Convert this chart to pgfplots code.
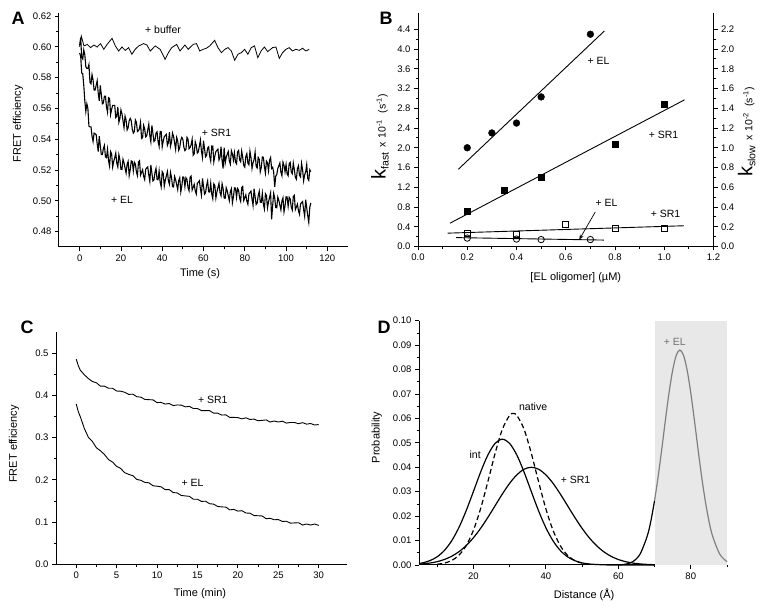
\documentclass[border=0pt]{standalone}
\usepackage{fontspec}
\setmainfont{Liberation Sans}
\usepackage{pgfplots}
\pgfplotsset{compat=1.18}
\usetikzlibrary{arrows.meta}

\pgfplotsset{
  panel/.style={
    scale only axis,
    anchor=south west,
    axis x line*=bottom,
    axis y line*=left,
    tick align=outside,
    major tick length=4pt,
    minor tick length=2.5pt,
    every tick/.style={black, line width=0.8pt},
    axis line style={line width=1pt},
    tick label style={font=\fontsize{9.5}{10}\selectfont},
    label style={font=\fontsize{11}{12}\selectfont},
    /pgf/number format/assume math mode=true,
    scaled ticks=false,
    clip=false,
  },
}
\tikzset{ann/.style={font=\fontsize{10.5}{12}\selectfont}}
\newcommand{\klabel}[3]{{\fontsize{20}{20}\selectfont k}\raisebox{-3pt}{\fontsize{10.5}{11}\selectfont #1}{\fontsize{10.5}{11}\selectfont\hspace{5pt}x\hspace{4pt}10\textsuperscript{#2}\hspace{6pt}(s\textsuperscript{#3})}}

\begin{document}
\begin{tikzpicture}[x=1pt,y=1pt]
\useasboundingbox (0,0) rectangle (768,612);

% ---------------- Panel A ----------------
\begin{axis}[panel,
  at={(59pt,365pt)}, width=289pt, height=234pt,
  xmin=-10, xmax=130, ymin=0.47, ymax=0.622,
  xtick={0,20,...,120}, minor x tick num=1,
  ytick={0.48,0.50,...,0.621}, minor y tick num=1,
  yticklabel style={/pgf/number format/.cd, fixed, fixed zerofill, precision=2},
  xlabel={Time (s)}, ylabel={FRET efficiency},
  xlabel style={at={(axis description cs:0.488,-0.115)}, anchor=center},
  ylabel style={at={(axis description cs:-0.142,0.526)}, anchor=center},
]
\addplot[black, line width=0.8pt] coordinates {
(0,0.600)(0.8,0.607)(2.1,0.6006)(3.7,0.6016)(5.3,0.5995)(6.9,0.6012)(8.5,0.5999)(10.1,0.6021)(11.7,0.5984)(13.3,0.6016)(15.7,0.6055)(17.3,0.6006)(18.9,0.5973)(20.5,0.5999)(22.1,0.5977)(23.7,0.5995)(25.3,0.5952)(26.9,0.5984)(28.6,0.6006)(31.0,0.6021)(32.6,0.6012)(34.2,0.5973)(36.6,0.6006)(39.0,0.5984)(41.4,0.5919)(43.0,0.5962)(44.6,0.5995)(47.0,0.6016)(48.6,0.5973)(51.0,0.6012)(52.6,0.5984)(55.0,0.6016)(56.6,0.6021)(58.2,0.5973)(59.8,0.5984)(61.4,0.5991)(63.0,0.6006)(65.4,0.6042)(67.0,0.5995)(68.7,0.5962)(70.3,0.5984)(71.9,0.5995)(73.5,0.5973)(75.1,0.5913)(76.7,0.5952)(78.3,0.5962)(79.9,0.5984)(81.5,0.5952)(83.1,0.5995)(84.7,0.6006)(86.3,0.5930)(87.9,0.5973)(89.5,0.5999)(91.1,0.5969)(93.5,0.5995)(95.1,0.5999)(96.7,0.5925)(98.3,0.5962)(99.9,0.5984)(101.5,0.5995)(103.1,0.5973)(104.8,0.5984)(106.4,0.5977)(108.0,0.5991)(109.6,0.5973)(111.2,0.5984)
};
\addplot[black, line width=1.1pt] coordinates {
(0,0.601)(0.5,0.606)(1,0.593)(1.5,0.592)(2,0.598)(2.5,0.595)(3,0.587)(3.5,0.586)(4,0.586)(4.5,0.5885)(5,0.577)(5.5,0.576)(6,0.582)(6.5,0.5785)(7,0.572)(7.5,0.572)(8,0.575)(8.5,0.578)(9,0.570)(9.5,0.565)(10,0.575)(10.5,0.569)(11,0.563)(11.5,0.5635)(12,0.568)(12.5,0.568)(13,0.561)(13.5,0.5575)(14,0.567)(14.5,0.5665)(15,0.556)(15.5,0.5595)(16,0.562)(16.5,0.562)(17,0.562)(17.5,0.554)(18,0.555)(18.5,0.561)(19,0.551)(19.5,0.5535)(20,0.559)(20.5,0.5565)(21,0.552)(21.5,0.5475)(22,0.555)(22.5,0.5525)(23,0.546)(23.5,0.5475)(24,0.552)(24.5,0.5535)(25,0.552)(25.5,0.5465)(26,0.544)(26.5,0.545)(27,0.5525)(27.5,0.551)(28,0.545)(28.5,0.5455)(29,0.547)(29.5,0.551)(30,0.5405)(30.5,0.541)(31,0.549)(31.5,0.5468)(32,0.5415)(32.5,0.5423)(33,0.546)(33.5,0.5498)(34,0.5425)(34.5,0.5383)(35,0.549)(35.5,0.5438)(36,0.5385)(36.5,0.5393)(37,0.544)(37.5,0.5448)(38,0.5385)(38.5,0.5353)(39,0.545)(39.5,0.545)(40,0.535)(40.5,0.5388)(41,0.5416)(41.5,0.5424)(42,0.5432)(42.5,0.536)(43,0.5378)(43.5,0.5446)(44,0.5354)(44.5,0.5382)(45,0.544)(45.5,0.5418)(46,0.5376)(46.5,0.5334)(47,0.5412)(47.5,0.539)(48,0.5328)(48.5,0.5346)(49,0.5394)(49.5,0.5412)(50,0.540)(50.5,0.5348)(51,0.5326)(51.5,0.5334)(52,0.5412)(52.5,0.540)(53,0.5338)(53.5,0.5346)(54,0.5364)(54.5,0.540)(55,0.5296)(55.5,0.5305)(56,0.5383)(56.5,0.5361)(57,0.531)(57.5,0.5318)(58,0.5356)(58.5,0.5395)(59,0.5323)(59.5,0.5281)(60,0.539)(60.5,0.5338)(61,0.5286)(61.5,0.5295)(62,0.5343)(62.5,0.5351)(63,0.529)(63.5,0.5258)(64,0.5356)(64.5,0.5355)(65,0.5253)(65.5,0.5291)(66,0.532)(66.5,0.5328)(67,0.5336)(67.5,0.5265)(68,0.5283)(68.5,0.5351)(69,0.526)(69.5,0.521)(70,0.5346)(70.5,0.5245)(71,0.5283)(71.5,0.5302)(72,0.532)(72.5,0.5259)(73,0.5238)(73.5,0.5326)(74,0.5305)(74.5,0.5264)(75,0.5312)(75.5,0.5251)(76,0.524)(76.5,0.5318)(77,0.5327)(77.5,0.5266)(78,0.5254)(78.5,0.5323)(79,0.5282)(79.5,0.523)(80,0.5219)(80.5,0.5288)(81,0.5306)(81.5,0.5245)(82,0.5234)(82.5,0.5322)(83,0.5281)(83.5,0.521)(84,0.5248)(84.5,0.5267)(85,0.5316)(85.5,0.5224)(86,0.5213)(86.5,0.5282)(87,0.527)(87.5,0.5188)(88,0.5217)(88.5,0.5285)(89,0.5283)(89.5,0.5222)(90,0.518)(90.5,0.5258)(91,0.5247)(91.5,0.5195)(92,0.5263)(92.5,0.5281)(93,0.521)(93.5,0.5218)(94,0.5186)(94.5,0.509)(95,0.516)(95.5,0.5171)(96,0.521)(96.5,0.5228)(97,0.5246)(97.5,0.5185)(98,0.5163)(98.5,0.5251)(99,0.523)(99.5,0.5188)(100,0.5236)(100.5,0.5175)(101,0.5163)(101.5,0.5241)(102,0.525)(102.5,0.5188)(103,0.5176)(103.5,0.5245)(104,0.5203)(104.5,0.5152)(105,0.514)(105.5,0.5209)(106,0.5227)(106.5,0.5166)(107,0.5155)(107.5,0.5243)(108,0.5202)(108.5,0.513)(109,0.5169)(109.5,0.5188)(110,0.5236)(110.5,0.5145)(111,0.5133)(111.5,0.5202)(112,0.519)
};
\addplot[black, line width=1.1pt] coordinates {
(0,0.596)(0.5,0.594)(1,0.583)(1.5,0.5825)(2,0.575)(2.5,0.565)(3,0.558)(3.5,0.563)(4,0.560)(4.5,0.5485)(5,0.548)(5.5,0.548)(6,0.542)(6.5,0.5385)(7,0.544)(7.5,0.5435)(8,0.543)(8.5,0.537)(9,0.532)(9.5,0.542)(10,0.536)(10.5,0.530)(11,0.530)(11.5,0.534)(12,0.536)(12.5,0.5285)(13,0.528)(13.5,0.5335)(14,0.526)(14.5,0.5225)(15,0.532)(15.5,0.5305)(16,0.522)(16.5,0.5255)(17,0.528)(17.5,0.531)(18,0.5245)(18.5,0.522)(19,0.530)(19.5,0.5268)(20,0.5205)(20.5,0.5203)(21,0.527)(21.5,0.5247)(22,0.5213)(22.5,0.518)(23,0.5238)(23.5,0.5256)(24,0.5163)(24.5,0.5201)(25,0.5259)(25.5,0.5256)(26,0.5194)(26.5,0.5251)(27,0.5239)(27.5,0.5187)(28,0.5164)(28.5,0.5252)(29,0.526)(29.5,0.5167)(30,0.5185)(30.5,0.5202)(31,0.516)(31.5,0.5138)(32,0.5205)(32.5,0.5213)(33,0.522)(33.5,0.5168)(34,0.5126)(34.5,0.5233)(35,0.5181)(35.5,0.5129)(36,0.5136)(36.5,0.5184)(37,0.5211)(37.5,0.5139)(38,0.5137)(38.5,0.5194)(39,0.5122)(39.5,0.5091)(40,0.5189)(40.5,0.5177)(41,0.5095)(41.5,0.5134)(42,0.5162)(42.5,0.519)(43,0.5129)(43.5,0.5107)(44,0.5185)(44.5,0.5153)(45,0.5092)(45.5,0.509)(46,0.5158)(46.5,0.5137)(47,0.5105)(47.5,0.5073)(48,0.5132)(48.5,0.515)(49,0.5058)(49.5,0.5097)(50,0.5155)(50.5,0.5153)(51,0.5092)(51.5,0.515)(52,0.5138)(52.5,0.5086)(53,0.5065)(53.5,0.5153)(54,0.5161)(54.5,0.507)(55,0.5088)(55.5,0.5107)(56,0.5065)(56.5,0.5044)(57,0.5113)(57.5,0.5121)(58,0.513)(58.5,0.5079)(59,0.5037)(59.5,0.5146)(60,0.5095)(60.5,0.5043)(61,0.5052)(61.5,0.5101)(62,0.5129)(62.5,0.5058)(63,0.5057)(63.5,0.5115)(64,0.5044)(64.5,0.5013)(65,0.5111)(65.5,0.510)(66,0.5018)(66.5,0.5057)(67,0.5086)(67.5,0.5114)(68,0.5053)(68.5,0.5032)(69,0.511)(69.5,0.5079)(70,0.5018)(70.5,0.5016)(71,0.5085)(71.5,0.5064)(72,0.5032)(72.5,0.5001)(73,0.506)(73.5,0.5078)(74,0.4987)(74.5,0.5026)(75,0.5084)(75.5,0.5083)(76,0.5022)(76.5,0.508)(77,0.5069)(77.5,0.5018)(78,0.4996)(78.5,0.5085)(79,0.5093)(79.5,0.5002)(80,0.5021)(80.5,0.5039)(81,0.4998)(81.5,0.4977)(82,0.5045)(82.5,0.5054)(83,0.5063)(83.5,0.5011)(84,0.497)(84.5,0.5079)(85,0.5027)(85.5,0.4976)(86,0.4985)(86.5,0.5033)(87,0.5062)(87.5,0.4991)(88,0.499)(88.5,0.5049)(89,0.4978)(89.5,0.4947)(90,0.5046)(90.5,0.5035)(91,0.4954)(91.5,0.4993)(92,0.5022)(92.5,0.5051)(93,0.488)(93.5,0.4969)(94,0.5048)(94.5,0.5017)(95,0.4956)(95.5,0.4955)(96,0.5024)(96.5,0.5003)(97,0.4972)(97.5,0.4941)(98,0.500)(98.5,0.5019)(99,0.4928)(99.5,0.4967)(100,0.5026)(100.5,0.5025)(101,0.4964)(101.5,0.5023)(102,0.5012)(102.5,0.4961)(103,0.494)(103.5,0.5028)(104,0.5035)(104.5,0.4943)(105,0.496)(105.5,0.4978)(106,0.4935)(106.5,0.4913)(107,0.498)(107.5,0.4988)(108,0.4995)(108.5,0.4943)(109,0.490)(109.5,0.5008)(110,0.4955)(110.5,0.4903)(111,0.486)(111.5,0.4958)(112,0.4986)
};
\node[ann] at (axis cs:40.4,0.611) {+ buffer};
\node[ann] at (axis cs:66.3,0.544) {+ SR1};
\node[ann] at (axis cs:20.5,0.5006) {+ EL};
\end{axis}

% ---------------- Panel B (left axis) ----------------
\begin{axis}[panel,
  at={(418pt,365.5pt)}, width=295.5pt, height=233.5pt,
  xmin=0, xmax=1.2, ymin=0, ymax=4.73,
  xtick={0,0.2,...,1.21}, minor x tick num=1,
  ytick={0,0.4,...,4.41}, minor y tick num=1,
  xticklabel style={/pgf/number format/.cd, fixed, fixed zerofill, precision=1},
  yticklabel style={/pgf/number format/.cd, fixed, fixed zerofill, precision=1},
  xlabel={[EL oligomer] (µM)},
  ylabel={\klabel{fast}{-1}{-1}},
  xlabel style={at={(axis description cs:0.534,-0.135)}, anchor=center},
  ylabel style={at={(axis description cs:-0.129,0.47)}, anchor=center},
]
\addplot[only marks, mark=*, mark size=3.4pt, black] coordinates {
(0.2,2.0)(0.3,2.3)(0.4,2.5)(0.5,3.03)(0.7,4.3)
};
\addplot[only marks, mark=square*, mark size=3.1pt, black] coordinates {
(0.2,0.72)(0.35,1.14)(0.5,1.41)(0.8,2.08)(1.0,2.89)
};
\addplot[black, line width=0.9pt] coordinates {(0.164,1.565)(0.757,4.366)};
\addplot[black, line width=0.9pt] coordinates {(0.130,0.472)(1.082,2.97)};
\draw[-{Stealth[length=5pt,width=4pt]}, line width=0.7pt] (axis cs:0.72,0.70) -- (axis cs:0.655,0.14);
\node[ann] at (axis cs:0.733,3.76) {+ EL};
\node[ann] at (axis cs:0.997,2.27) {+ SR1};
\node[ann] at (axis cs:0.766,0.88) {+ EL};
\node[ann] at (axis cs:1.005,0.66) {+ SR1};
\end{axis}

% ---------------- Panel B (right axis) ----------------
\begin{axis}[panel,
  at={(418pt,365.5pt)}, width=295.5pt, height=233.5pt,
  axis x line=none, axis y line*=right,
  xmin=0, xmax=1.2, ymin=0, ymax=2.365,
  ytick={0,0.2,...,2.21}, minor y tick num=1,
  yticklabel style={/pgf/number format/.cd, fixed, fixed zerofill, precision=1},
  ylabel={\klabel{slow}{-2}{-1}},
  ylabel style={at={(axis description cs:1.112,0.49)}, anchor=center},
]
\addplot[only marks, mark=square, mark size=3.1pt, black, mark options={line width=0.8pt}] coordinates {
(0.2,0.13)(0.4,0.125)(0.6,0.22)(0.8,0.18)(1.0,0.18)
};
\addplot[only marks, mark=o, mark size=3.2pt, black, mark options={line width=0.8pt}] coordinates {
(0.2,0.085)(0.4,0.075)(0.5,0.07)(0.7,0.07)
};
\addplot[black, line width=0.9pt] coordinates {(0.12,0.135)(1.08,0.21)};
\addplot[black, line width=0.9pt] coordinates {(0.155,0.09)(0.755,0.065)};
\end{axis}

% ---------------- Panel C ----------------
\begin{axis}[panel,
  at={(56pt,47.7pt)}, width=291pt, height=232.6pt,
  xmin=-2.5, xmax=33.5, ymin=0, ymax=0.551,
  xtick={0,5,...,30}, minor x tick num=1,
  ytick={0,0.1,...,0.51}, minor y tick num=1,
  yticklabel style={/pgf/number format/.cd, fixed, fixed zerofill, precision=1},
  xlabel={Time (min)}, ylabel={FRET efficiency},
  xlabel style={at={(axis description cs:0.495,-0.125)}, anchor=center},
  ylabel style={at={(axis description cs:-0.144,0.517)}, anchor=center},
]
\addplot[black, line width=0.9pt] coordinates {
(0,0.486)(0.25,0.471)(0.5,0.460)(1,0.449)(1.5,0.440)(2,0.433)(2.5,0.430)(3,0.422)(3.5,0.422)(4,0.417)(4.5,0.417)(5,0.4105)(5.5,0.410)(6,0.4075)(6.5,0.4025)(7,0.403)(7.5,0.397)(8,0.396)(8.5,0.3905)(9,0.390)(9.5,0.3895)(10,0.383)(10.5,0.3835)(11,0.3795)(11.5,0.381)(12,0.376)(12.5,0.3775)(13,0.377)(13.5,0.373)(14,0.374)(14.5,0.369)(15,0.369)(15.5,0.364)(16,0.364)(16.5,0.364)(17,0.358)(17.5,0.358)(18,0.3535)(18.5,0.354)(19,0.348)(19.5,0.348)(20,0.3475)(20.5,0.3445)(21,0.347)(21.5,0.343)(22,0.344)(22.5,0.340)(23,0.341)(23.5,0.342)(24,0.337)(24.5,0.3395)(25,0.337)(25.5,0.339)(26,0.3345)(26.5,0.336)(27,0.336)(27.5,0.333)(28,0.3355)(28.5,0.332)(29,0.3335)(29.5,0.330)(30,0.331)
};
\addplot[black, line width=0.9pt] coordinates {
(0,0.380)(0.25,0.362)(0.5,0.350)(1,0.322)(1.5,0.301)(2,0.291)(2.5,0.276)(3,0.269)(3.5,0.260)(4,0.248)(4.5,0.242)(5,0.232)(5.5,0.227)(6,0.217)(6.5,0.213)(7,0.210)(7.5,0.201)(8,0.199)(8.5,0.194)(9,0.193)(9.5,0.186)(10,0.185)(10.5,0.1835)(11,0.177)(11.5,0.177)(12,0.170)(12.5,0.169)(13,0.163)(13.5,0.162)(14,0.161)(14.5,0.154)(15,0.154)(15.5,0.149)(16,0.1495)(16.5,0.1435)(17,0.1425)(17.5,0.137)(18,0.136)(18.5,0.1355)(19,0.129)(19.5,0.130)(20,0.126)(20.5,0.127)(21,0.1215)(21.5,0.121)(22,0.1155)(22.5,0.115)(23,0.1145)(23.5,0.108)(24,0.109)(24.5,0.1055)(25,0.106)(25.5,0.1015)(26,0.102)(26.5,0.0975)(27,0.098)(27.5,0.0985)(28,0.093)(28.5,0.0955)(29,0.093)(29.5,0.0955)(30,0.092)
};
\node[ann] at (axis cs:16.9,0.389) {+ SR1};
\node[ann] at (axis cs:14.4,0.192) {+ EL};
\end{axis}

% ---------------- Panel D ----------------
\begin{axis}[panel,
  at={(419pt,47pt)}, width=308pt, height=244.3pt,
  xmin=5, xmax=90, ymin=0, ymax=0.1,
  xtick={20,40,60,80}, minor xtick={10,30,50,70,90},
  ytick={0,0.01,...,0.101}, minor y tick num=1,
  yticklabel style={/pgf/number format/.cd, fixed, fixed zerofill, precision=2},
  xlabel={Distance (Å)}, ylabel={Probability},
  xlabel style={at={(axis description cs:0.536,-0.123)}, anchor=center},
  ylabel style={at={(axis description cs:-0.137,0.522)}, anchor=center},
]
\addplot[fill=black!9, draw=none] coordinates {(70,0.1)(90,0.1)} \closedcycle;
\addplot[black, line width=1.2pt, smooth] coordinates {
(5,0.0006)(6,0.00087)(8,0.00177)(10,0.00335)(12,0.00594)(14,0.00986)(16,0.0153)(18,0.02216)(20,0.03002)(22,0.03802)(24,0.045)(26,0.04979)(28,0.0515)(30,0.04979)(32,0.045)(34,0.03802)(36,0.03002)(38,0.02216)(40,0.0153)(42,0.00986)(44,0.00594)(46,0.00335)(48,0.00177)(50,0.00087)(52,0.0004)(56,0.00007)(60,0)(70,0)
};
\addplot[black, line width=1.2pt, smooth, dash pattern=on 5pt off 3pt] coordinates {
(10,0.0003)(12,0.00076)(14,0.00182)(16,0.00398)(18,0.00788)(20,0.01415)(22,0.02307)(24,0.03409)(26,0.04569)(28,0.05555)(30,0.06125)(31,0.062)(32,0.06125)(34,0.05555)(36,0.04569)(38,0.03409)(40,0.02307)(42,0.01415)(44,0.00788)(46,0.00398)(48,0.00182)(50,0.00076)(52,0.0003)
};
\addplot[black, line width=1.2pt, smooth] coordinates {
(5,0.00033)(8,0.00079)(10,0.00136)(12,0.00225)(14,0.00356)(16,0.00541)(18,0.00792)(20,0.01112)(22,0.01501)(24,0.01947)(26,0.02426)(28,0.02905)(30,0.03341)(32,0.03692)(34,0.03921)(36,0.04)(38,0.03921)(40,0.03692)(42,0.03341)(44,0.02905)(46,0.02426)(48,0.01947)(50,0.01501)(52,0.01112)(54,0.00792)(56,0.00541)(58,0.00356)(60,0.00225)(62,0.00136)(64,0.00079)(66,0.00044)(68,0.00024)(70,0.00012)
};
\addplot[black, line width=1.2pt, smooth] coordinates {
(60,0.00007)(62,0.00034)(64,0.00136)(66,0.00443)(68,0.01191)(69,0.0181)(70,0.02624)
};
\addplot[black!50, line width=1.2pt, smooth] coordinates {
(70,0.02624)(71,0.0362)(72,0.04747)(73,0.0593)(74,0.07046)(75,0.0797)(76,0.08585)(77,0.088)(78,0.08585)(79,0.0797)(80,0.07046)(81,0.0593)(82,0.04747)(83,0.0362)(84,0.02624)(85,0.0181)(86,0.01191)(88,0.00443)(90,0.00136)
};
\node[ann] at (axis cs:36.5,0.0648) {native};
\node[ann] at (axis cs:20.5,0.045) {int};
\node[ann] at (axis cs:48.2,0.0348) {+ SR1};
\node[ann, text=black!55] at (axis cs:75.6,0.0914) {+ EL};
\end{axis}

% panel letters
\node[font=\fontsize{18}{18}\selectfont\bfseries] at (18,594) {A};
\node[font=\fontsize{18}{18}\selectfont\bfseries] at (386,594) {B};
\node[font=\fontsize{18}{18}\selectfont\bfseries] at (27,285) {C};
\node[font=\fontsize{18}{18}\selectfont\bfseries] at (384,284.5) {D};
\end{tikzpicture}
\end{document}
